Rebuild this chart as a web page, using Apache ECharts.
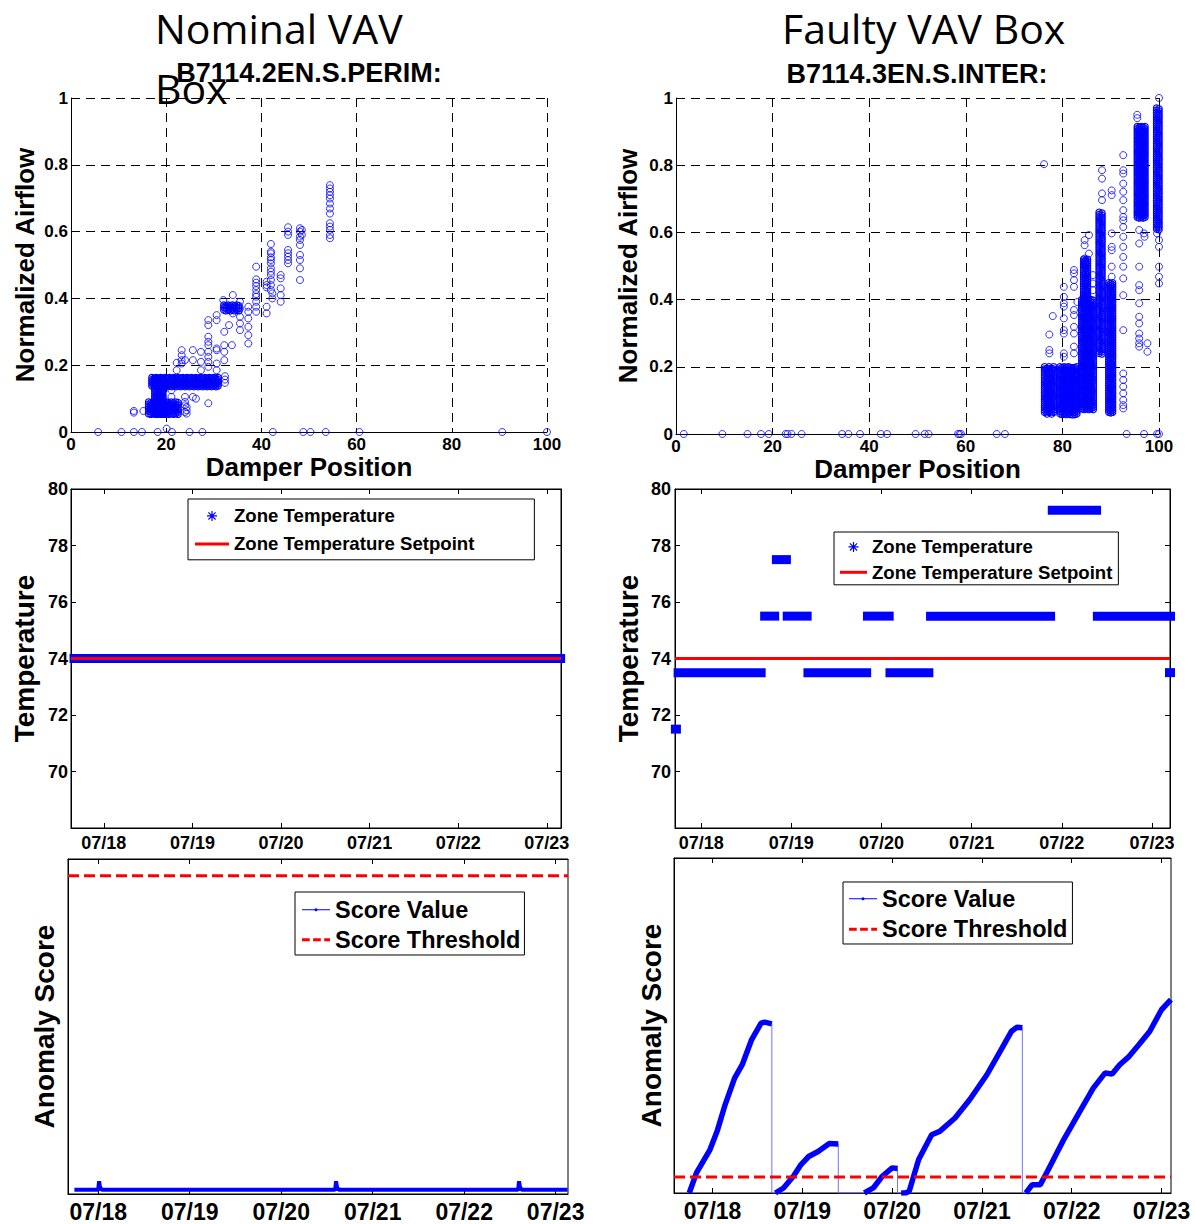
<!DOCTYPE html>
<html><head><meta charset="utf-8">
<script src="https://cdn.jsdelivr.net/npm/echarts@6/dist/echarts.min.js"></script>
<style>html,body{margin:0;padding:0;background:#fff}#c{width:1195px;height:1224px}</style>
</head><body><div id="c"></div>
<script>
// ---------------- data ----------------
const dayTicks = [18, 19, 20, 21, 22, 23];
const dayLabels = ['07/18', '07/19', '07/20', '07/21', '07/22', '07/23'];
const tempTicks = [70, 72, 74, 76, 78, 80];

// Nominal VAV: damper position vs normalized airflow (sparse points)
const nominalPoints = [
  [5.7,0],[10.6,0],[13.2,0],[14.9,0],[18.2,0],[20.1,0.01],[21.2,0],[24.9,0],[27.6,0],[42.4,0],[48.8,0],[50.3,0],[53.5,0],[60.6,0],[90.6,0],[100,0],
  [13.2,0.063],[13.2,0.058],[15.2,0.063],
  [54.4,0.739],[54.4,0.729],[54.4,0.719],[54.4,0.709],[54.4,0.699],[54.4,0.684],[54.4,0.669],[54.4,0.654],[54.4,0.625],[54.4,0.615],[54.4,0.605],[54.4,0.59],[54.4,0.58],
  [45.6,0.613],[45.6,0.6],[45.6,0.59],[45.6,0.545],[45.6,0.535],[45.6,0.525],[45.6,0.515],[45.6,0.505],
  [48.1,0.61],[48.1,0.6],[48.1,0.585],[48.1,0.575],[48.1,0.56],[48.1,0.53],[48.1,0.515],[48.1,0.49],[48.1,0.455],[48.5,0.605],[48.5,0.59],
  [42.0,0.563],[42.0,0.54],[42.0,0.535],[42.0,0.523],[42.0,0.515],[42.0,0.505],[42.0,0.49],[42.0,0.48],[42.0,0.47],[42.0,0.455],[42.0,0.44],[42.0,0.425],
  [41.1,0.45],[41.1,0.44],[41.1,0.433],[41.1,0.375],[41.1,0.355],[42.3,0.415],[42.3,0.4],
  [44.05,0.47],[44.05,0.46],[44.05,0.43],[44.05,0.41],[44.05,0.39],
  [38.9,0.495],[38.9,0.457],[38.9,0.447],[38.9,0.437],[38.9,0.425],[38.9,0.413],[38.9,0.405],[38.9,0.39],[38.9,0.375],[38.9,0.36],
  [37.25,0.375],[37.25,0.36],[37.25,0.34],[37.25,0.315],[37.25,0.29],[37.25,0.265],
  [35.5,0.39],[35.5,0.37],[35.5,0.345],[35.5,0.325],[35.5,0.305],
  [34.0,0.41],[34.0,0.355],[32.0,0.395],
  [30.6,0.35],[30.6,0.335],[30.6,0.25],[30.6,0.245],[30.6,0.205],[30.6,0.185],
  [28.85,0.335],[28.85,0.32],[28.85,0.285],[28.85,0.27],[28.85,0.26],[28.85,0.24],[28.85,0.225],[28.85,0.21],[28.85,0.195],
  [32.2,0.3],[32.2,0.26],[32.2,0.24],[32.2,0.215],[33.2,0.32],[33.8,0.26],[32.35,0.167],[32.35,0.157],[32.35,0.147],
  [27.3,0.24],[27.3,0.21],[27.3,0.185],[25.6,0.245],[25.6,0.215],[25.6,0.105],
  [23.25,0.245],[23.25,0.23],[23.25,0.215],[23.25,0.205],[22.2,0.207],[22.2,0.185],
  [23.95,0.215],[23.95,0.105],[23.95,0.09],[23.95,0.08],[23.95,0.06],[24.3,0.075],[24.3,0.065],[24.3,0.055],
  [28.85,0.086],[26.25,0.1],[21.1,0.125],[21.1,0.105]
];
// Nominal VAV: dense clusters [xFrom, xTo, yFrom, yTo]
const nominalDense = [
  [17.0, 30.9, 0.138, 0.163],
  [17.6, 19.3, 0.055, 0.16],
  [16.3, 22.5, 0.055, 0.09],
  [32.1, 35.3, 0.365, 0.38]
];

// Faulty VAV: sparse points
const faultyZeros = [1.6,9.6,14.8,17.6,19.2,22.7,23.1,23.9,26.0,34.4,35.7,38.1,42.4,43.7,49.6,51.5,52.3,58.4,58.7,59.0,66.4,68.1,93.3,96.9,99.6,100];
const faultyColumns = [
  [80.3, [0.438,0.408,0.389,0.379,0.344,0.309,0.299,0.24,0.23]],
  [82.4, [0.488,0.478,0.458,0.438,0.369,0.354,0.319,0.299,0.26,0.24]],
  [84.6, [0.577,0.562,0.522,0.507,0.498]],
  [86.3, [0.473,0.448,0.428]],
  [88.2, [0.785,0.76,0.716,0.696]],
  [90.2, [0.725,0.711,0.597,0.557,0.547,0.498,0.468]],
  [92.6, [0.83,0.785,0.775,0.745,0.721,0.696,0.666,0.646,0.636,0.616,0.587,0.557,0.527,0.498,0.463,0.413,0.309,0.18,0.161,0.141,0.121,0.101,0.086,0.076]],
  [95.9, [0.607,0.567,0.498,0.443,0.428,0.389,0.349,0.329,0.299,0.284,0.27,0.26]],
  [100, [1.0,0.577,0.557,0.498,0.468,0.448]]
];
const faultyOthers = [
  [76.2,0.803],[77.3,0.296],[78.0,0.351],[77.3,0.24],[77.3,0.25],[83.1,0.393],
  [85.5,0.592],[85.5,0.537],[95.5,0.94],[95.5,0.95],[96.9,0.597],[97.0,0.587],
  [97.6,0.27],[97.6,0.245],[99.6,0.597]
];
const faultyDense = [
  [76.3, 78.2, 0.065, 0.2],
  [79.5, 83.0, 0.06, 0.2],
  [84.0, 86.4, 0.075, 0.40],
  [84.4, 85.2, 0.40, 0.52],
  [87.6, 88.2, 0.24, 0.66],
  [89.6, 90.4, 0.065, 0.45],
  [95.5, 97.1, 0.645, 0.915],
  [99.5, 100, 0.61, 0.97]
];

// Zone temperature runs [dayFrom, dayTo, temperature]
const nominalTempRuns = [[17.67, 23.15, 74]];
const nominalSetpoint = [[17.63, 74], [23.16, 74]];
const faultyTempRuns = [
  [17.72, 17.72, 71.5], [17.75, 18.66, 73.5], [18.71, 18.81, 75.5], [18.84, 18.94, 77.5],
  [18.96, 19.17, 75.5], [19.19, 19.83, 73.5], [19.85, 20.08, 75.5], [20.10, 20.52, 73.5],
  [20.55, 21.87, 75.5], [21.90, 22.38, 79.25], [22.40, 23.20, 75.5], [23.20, 23.20, 73.5]
];
const faultySetpoint = [[17.71, 74], [23.2, 74]];

// Anomaly scores (relative units)
const nominalScore = [
  [17.74,0.013],[18.0,0.013],[18.01,0.038],[18.02,0.02],[18.04,0.013],
  [20.59,0.013],[20.6,0.038],[20.61,0.02],[20.63,0.013],
  [22.59,0.013],[22.6,0.038],[22.61,0.02],[22.63,0.013],[23.13,0.013]
];
const nominalThreshold = [[17.67, 0.95], [23.135, 0.95]];
const faultySeg1 = [[17.74,0],[17.82,0.06],[17.97,0.129],[18.05,0.184],[18.14,0.264],[18.245,0.343],[18.33,0.383],[18.435,0.458],[18.54,0.507],[18.58,0.51],[18.66,0.505]];
const faultySeg2 = [[18.70,0],[18.79,0.015],[18.90,0.05],[18.985,0.085],[19.07,0.109],[19.175,0.124],[19.30,0.148],[19.40,0.146]];
const faultySeg3 = [[19.69,0],[19.79,0.015],[19.89,0.05],[20.0,0.075],[20.06,0.073]];
const faultySeg4 = [[20.10,0],[20.15,0],[20.19,0.005],[20.295,0.1],[20.44,0.174],[20.53,0.184],[20.70,0.224],[20.865,0.279],[21.055,0.353],[21.225,0.433],[21.33,0.483],[21.39,0.495],[21.45,0.493]];
const faultySeg5 = [[21.49,0],[21.56,0.025],[21.65,0.025],[21.73,0.065],[21.90,0.154],[22.07,0.234],[22.24,0.313],[22.37,0.358],[22.45,0.355],[22.535,0.383],[22.64,0.408],[22.75,0.443],[22.87,0.483],[23.0,0.547],[23.105,0.577]];
const faultyResetValue = 0;
const faultyThreshold = [[17.57, 0.048], [23.106, 0.048]];

// ---------------- build ----------------
const BLUE = '#0000ff', RED = '#ff0000';
const FONT = '"Liberation Sans", Arial, sans-serif';
const lbl = s => ({color: '#000', fontWeight: 'bold', fontFamily: FONT, fontSize: s});

const faultyPoints = faultyZeros.map(x => [x, 0])
  .concat(...faultyColumns.map(c => c[1].map(y => [c[0], y])))
  .concat(faultyOthers);
const faultySegs = [faultySeg1, faultySeg2, faultySeg3, faultySeg4, faultySeg5];
const faultyThin = [];
faultySegs.forEach((s, i) => {
  faultyThin.push(...s);
  if (i < faultySegs.length - 1) faultyThin.push([s[s.length - 1][0], faultyResetValue]);
});

// dense cluster: drawn as a packed field of open circles covering the range
function renderDense(params, api) {
  const a = api.coord([api.value(0), api.value(3)]);
  const b = api.coord([api.value(1), api.value(2)]);
  const w = b[0] - a[0], h = b[1] - a[1];
  const nx = Math.max(1, Math.round(w / 2.2) + 1), ny = Math.max(1, Math.round(h / 2.2) + 1);
  const children = [];
  for (let i = 0; i < nx; i++) {
    for (let j = 0; j < ny; j++) {
      const cx = a[0] + (nx > 1 ? i * w / (nx - 1) : w / 2);
      const cy = a[1] + (ny > 1 ? j * h / (ny - 1) : h / 2) + ((i % 2) ? 0.7 : 0);
      children.push({type: 'circle', shape: {cx: cx, cy: cy, r: 3.2},
        style: {fill: 'none', stroke: BLUE, lineWidth: 1.1}});
    }
  }
  return {type: 'group', children: children};
}
function renderRun(params, api) {
  const a = api.coord([api.value(0), api.value(2)]);
  const b = api.coord([api.value(1), api.value(2)]);
  return {type: 'rect', shape: {x: a[0] - 5, y: a[1] - 4.5, width: b[0] - a[0] + 10, height: 9},
    style: {fill: BLUE}};
}

const asterisk = 'path://M4.4 0H5.6V10H4.4z M0 4.4H10V5.6H0z M1 1.8L1.8 1L9 8.2L8.2 9z M8.2 1L9 1.8L1.8 9L1 8.2z';
const setLine = w => 'path://M0 0H' + w + 'V3H0z';
const dashIcon = 'path://M0 0H8V3H0zM11.5 0H19.5V3H11.5zM23 0H29V3H23z';
const scoreIcon = 'path://M0 1.3H29V2.3H0z M16.1 1.8A1.6 1.6 0 1 1 12.9 1.8A1.6 1.6 0 1 1 16.1 1.8z';

const dashGrid = {show: true, lineStyle: {color: '#000', type: [9, 6], width: 1}};
const blackLine = {show: true, onZero: false, lineStyle: {color: '#000', width: 1}};

function scatterX(g) {
  return {gridIndex: g, type: 'value', min: 0, max: 100, interval: 20,
    axisLine: blackLine, axisTick: {show: false}, splitLine: dashGrid,
    axisLabel: Object.assign(lbl(17), {margin: 4}),
    name: 'Damper Position', nameLocation: 'middle', nameGap: 21, nameTextStyle: lbl(26)};
}
function scatterY(g, gap) {
  return {gridIndex: g, type: 'value', min: 0, max: 1, interval: 0.2,
    axisLine: blackLine, axisTick: {show: false}, splitLine: dashGrid,
    axisLabel: Object.assign(lbl(17), {margin: 3}),
    name: 'Normalized Airflow', nameLocation: 'middle', nameGap: gap, nameTextStyle: lbl(26)};
}
function dayX(g, min, max, size, margin) {
  return {gridIndex: g, type: 'value', min: min, max: max,
    axisLine: blackLine, splitLine: {show: false},
    axisTick: {show: true, inside: true, length: 5, customValues: dayTicks, lineStyle: {color: '#000'}},
    axisLabel: Object.assign(lbl(size), {margin: margin, customValues: dayTicks,
      formatter: v => dayLabels[dayTicks.indexOf(v)]})};
}
function dayXTop(g, min, max) {
  return {gridIndex: g, type: 'value', position: 'top', min: min, max: max,
    axisLine: blackLine, splitLine: {show: false}, axisLabel: {show: false},
    axisTick: {show: true, inside: true, length: 5, customValues: dayTicks, lineStyle: {color: '#000'}}};
}
function tempY(g, margin) {
  return {gridIndex: g, type: 'value', min: 68, max: 80,
    axisLine: blackLine, splitLine: {show: false},
    axisTick: {show: true, inside: true, length: 5, customValues: tempTicks, lineStyle: {color: '#000'}},
    axisLabel: Object.assign(lbl(18), {margin: margin, customValues: tempTicks}),
    name: 'Temperature', nameLocation: 'middle', nameGap: 33, nameTextStyle: lbl(28)};
}
function tempYRight(g) {
  return {gridIndex: g, type: 'value', position: 'right', min: 68, max: 80,
    axisLine: blackLine, splitLine: {show: false}, axisLabel: {show: false},
    axisTick: {show: true, inside: true, length: 5, customValues: tempTicks, lineStyle: {color: '#000'}}};
}
function scoreY(g, gap) {
  return {gridIndex: g, type: 'value', min: 0, max: 1,
    axisLine: blackLine, splitLine: {show: false}, axisTick: {show: false}, axisLabel: {show: false},
    name: 'Anomaly Score', nameLocation: 'middle', nameGap: gap, nameTextStyle: lbl(28)};
}
const boxed = {show: true, borderColor: '#000', borderWidth: 1, backgroundColor: 'transparent'};
function legendBox(left, top, names, iw, ih, gap, pad, size) {
  return {left: left, top: top, orient: 'vertical', data: names, itemWidth: iw, itemHeight: ih,
    itemGap: gap, padding: pad, borderColor: '#000', borderWidth: 1, backgroundColor: '#fff',
    selectedMode: false, symbolKeepAspect: true, textStyle: lbl(size)};
}

const scatterStyle = {color: 'transparent', borderColor: BLUE, borderWidth: 1};

const option = {
  animation: false,
  backgroundColor: '#fff',
  grid: [
    {left: 71, top: 98, width: 476, height: 334},
    {left: 676, top: 98, width: 483, height: 336},
    Object.assign({left: 71, top: 489, width: 490, height: 339}, boxed),
    Object.assign({left: 675, top: 489, width: 495, height: 339}, boxed),
    Object.assign({left: 68, top: 859, width: 500, height: 335}, boxed),
    Object.assign({left: 674, top: 858, width: 497, height: 335}, boxed)
  ],
  xAxis: [
    scatterX(0), scatterX(1),
    dayX(2, 17.63, 23.16, 18, 6), dayXTop(2, 17.63, 23.16),
    dayX(3, 17.71, 23.2, 18, 6), dayXTop(3, 17.71, 23.2),
    dayX(4, 17.67, 23.135, 23, 6), dayXTop(4, 17.67, 23.135),
    dayX(5, 17.57, 23.106, 23, 6), dayXTop(5, 17.57, 23.106)
  ],
  yAxis: [
    scatterY(0, 33), scatterY(1, 35),
    tempY(2, 3), tempYRight(2),
    tempY(3, 4), tempYRight(3),
    scoreY(4, 10), scoreY(5, 9)
  ],
  legend: [
    legendBox(188, 499, [{name: 'Zone Temperature', icon: asterisk}, {name: 'Zone Temperature Setpoint', icon: setLine(34)}], 34, 10, 9, [7.4, 60, 6.4, 7], 18.6),
    legendBox(834, 532, [{name: 'Zone Temperature', icon: asterisk}, {name: 'Zone Temperature Setpoint', icon: setLine(27)}], 27, 10, 6.4, [5.4, 6, 3, 6], 18.6),
    legendBox(295, 892, [{name: 'Score Value', icon: scoreIcon}, {name: 'Score Threshold', icon: dashIcon}], 28, 4, 6, [5.8, 4, 3.2, 7], 23.5),
    legendBox(843, 882, [{name: 'Score Value', icon: scoreIcon}, {name: 'Score Threshold', icon: dashIcon}], 28, 4, 6.4, [4.8, 5, 2.8, 6], 23.5)
  ],
  graphic: [
    {type: 'text', x: 155, y: -2, z: 10, style: {text: 'Nominal VAV\nBox', font: '41px "Open Sans"', lineHeight: 60, fill: '#000', align: 'left', verticalAlign: 'top'}},
    {type: 'text', x: 782, y: -2, z: 10, style: {text: 'Faulty VAV Box', font: '41px "Open Sans"', lineHeight: 60, fill: '#000', align: 'left', verticalAlign: 'top'}},
    {type: 'text', x: 309, y: 73, z: 10, style: {text: 'B7114.2EN.S.PERIM:', font: 'bold 27px "Liberation Sans"', fill: '#000', align: 'center', verticalAlign: 'middle'}},
    {type: 'text', x: 917, y: 74, z: 10, style: {text: 'B7114.3EN.S.INTER:', font: 'bold 27px "Liberation Sans"', fill: '#000', align: 'center', verticalAlign: 'middle'}}
  ],
  series: [
    {type: 'custom', xAxisIndex: 0, yAxisIndex: 0, data: nominalDense, renderItem: renderDense, silent: true},
    {type: 'scatter', xAxisIndex: 0, yAxisIndex: 0, data: nominalPoints, symbol: 'circle', symbolSize: 7, itemStyle: scatterStyle, clip: false, silent: true},
    {type: 'custom', xAxisIndex: 1, yAxisIndex: 1, data: faultyDense, renderItem: renderDense, silent: true},
    {type: 'scatter', xAxisIndex: 1, yAxisIndex: 1, data: faultyPoints, symbol: 'circle', symbolSize: 7, itemStyle: scatterStyle, clip: false, silent: true},

    {type: 'custom', name: 'Zone Temperature', xAxisIndex: 2, yAxisIndex: 2, data: nominalTempRuns, renderItem: renderRun, itemStyle: {color: BLUE}, silent: true},
    {type: 'line', name: 'Zone Temperature Setpoint', xAxisIndex: 2, yAxisIndex: 2, data: nominalSetpoint, symbol: 'none', lineStyle: {color: RED, width: 3}, itemStyle: {color: RED}, z: 5, silent: true},
    {type: 'custom', name: 'Zone Temperature', xAxisIndex: 4, yAxisIndex: 4, data: faultyTempRuns, renderItem: renderRun, itemStyle: {color: BLUE}, silent: true},
    {type: 'line', name: 'Zone Temperature Setpoint', xAxisIndex: 4, yAxisIndex: 4, data: faultySetpoint, symbol: 'none', lineStyle: {color: RED, width: 3}, itemStyle: {color: RED}, z: 5, silent: true},

    {type: 'line', name: 'Score Value', xAxisIndex: 6, yAxisIndex: 6, data: nominalScore, symbol: 'none', lineStyle: {color: BLUE, width: 4}, itemStyle: {color: BLUE}, silent: true},
    {type: 'line', name: 'Score Threshold', xAxisIndex: 6, yAxisIndex: 6, data: nominalThreshold, symbol: 'none', lineStyle: {color: RED, width: 3, type: [11, 5]}, itemStyle: {color: RED}, silent: true},
    {type: 'line', name: 'Score Value', xAxisIndex: 8, yAxisIndex: 7, data: faultyThin, symbol: 'none', lineStyle: {color: '#7070ff', width: 1}, itemStyle: {color: BLUE}, silent: true}
  ].concat(faultySegs.map(s => ({type: 'line', name: 'Score Value', xAxisIndex: 8, yAxisIndex: 7, data: s, symbol: 'none',
      lineStyle: {color: BLUE, width: 5.5}, itemStyle: {color: BLUE}, silent: true})))
   .concat([{type: 'line', name: 'Score Threshold', xAxisIndex: 8, yAxisIndex: 7, data: faultyThreshold, symbol: 'none', lineStyle: {color: RED, width: 3, type: [11, 5]}, itemStyle: {color: RED}, silent: true}])
};

const chart = echarts.init(document.getElementById('c'), null, {renderer: 'svg'});
chart.setOption(option);
</script>
</body></html>
